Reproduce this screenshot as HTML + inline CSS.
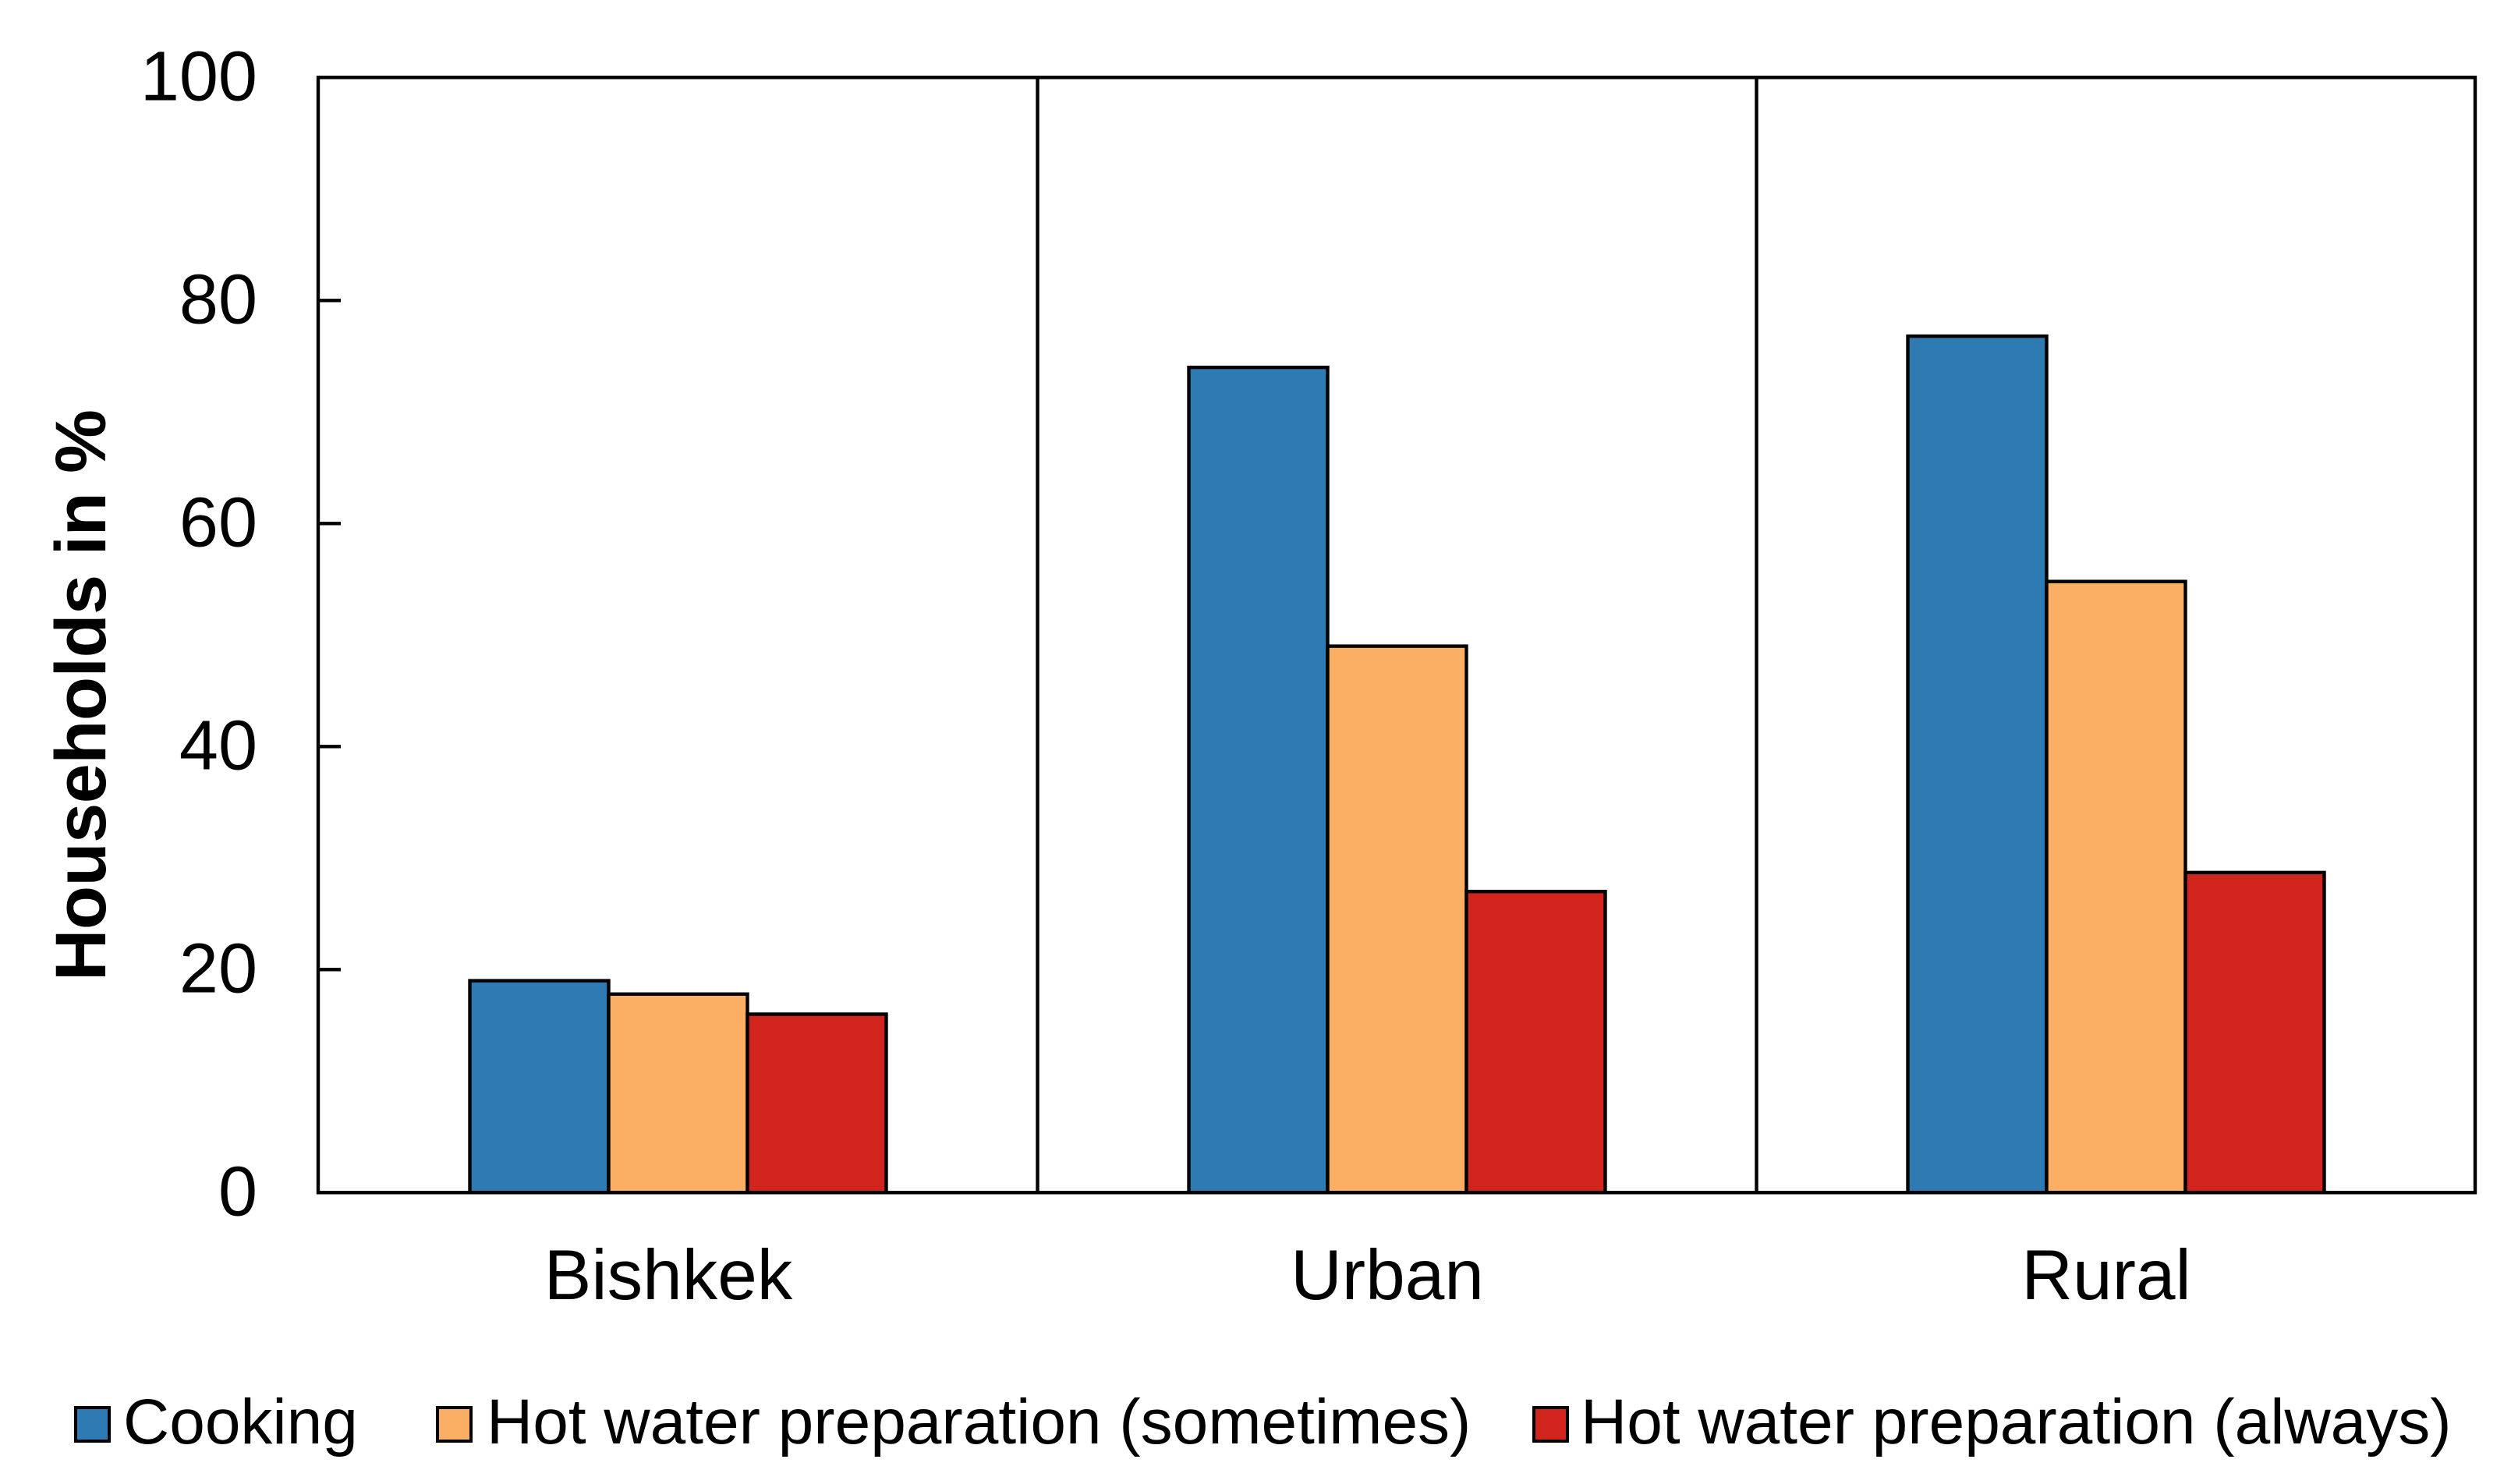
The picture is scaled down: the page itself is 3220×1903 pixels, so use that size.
<!DOCTYPE html>
<html lang="en">
<head>
<meta charset="utf-8">
<title>Households in % by energy use</title>
<style>
html,body{margin:0;padding:0;background:#fff;width:3220px;height:1903px;overflow:hidden}
svg{display:block}
text{font-family:"Liberation Sans",Arial,sans-serif;fill:#000}
</style>
</head>
<body>
<svg id="chart" xmlns="http://www.w3.org/2000/svg" width="3220" height="1903" viewBox="0 0 3220 1903"></svg>
<script>
const categories = ['Bishkek', 'Urban', 'Rural'];
const cooking = [19, 74, 76.8];
const hotWaterSometimes = [17.8, 49, 54.8];
const hotWaterAlways = [16, 27, 28.7];
const yTicks = [0, 20, 40, 60, 80, 100];
const seriesLabels = ['Cooking', 'Hot water preparation (sometimes)', 'Hot water preparation (always)'];

const NS = 'http://www.w3.org/2000/svg';
const svg = document.getElementById('chart');
const plot = {left: 408, right: 3174, top: 99.3, bottom: 1529.3};
const barWidth = 178;
const colors = ['#2e7bb4', '#faaf64', '#d1241c'];
const seriesValues = [cooking, hotWaterSometimes, hotWaterAlways];
const seriesSlugs = ['cooking', 'hot-water-sometimes', 'hot-water-always'];

function yScale(v) { return plot.bottom - (v / 100) * (plot.bottom - plot.top); }
function bandWidth() { return (plot.right - plot.left) / categories.length; }
function xCenter(i) { return plot.left + bandWidth() * (i + 0.5); }

function make(tag, attrs, text) {
  const el = document.createElementNS(NS, tag);
  for (const k in attrs) el.setAttribute(k, attrs[k]);
  if (text !== undefined) el.textContent = text;
  svg.appendChild(el);
  return el;
}

// Plot background
const frameBg = make('rect', {x: plot.left, y: plot.top, width: plot.right - plot.left, height: plot.bottom - plot.top, fill: '#fff'});



// Bars
categories.forEach(function (cat, c) {
  const start = xCenter(c) - barWidth * seriesValues.length / 2;
  seriesValues.forEach(function (vals, s) {
    const y = yScale(vals[c]);
    const bar = make('rect', {x: start + s * barWidth + 0.5, y: y, width: barWidth, height: plot.bottom - y, fill: colors[s], stroke: '#000', 'stroke-width': 4.4});
    
    
  });
});

// Group separators
for (let i = 1; i < categories.length; i++) {
  const sepX = plot.left + bandWidth() * i + 0.5;
  const sep = make('line', {x1: sepX, x2: sepX, y1: plot.top, y2: plot.bottom, stroke: '#000', 'stroke-width': 4.4});
  
  
}

// Frame
const frame = make('rect', {x: plot.left, y: plot.top, width: plot.right - plot.left, height: plot.bottom - plot.top, fill: 'none', stroke: '#000', 'stroke-width': 4.4});



// Y ticks and labels
yTicks.forEach(function (t) {
  const y = yScale(t);
  if (t !== 0 && t !== 100) {
    const tick = make('line', {x1: plot.left, x2: plot.left + 29, y1: y, y2: y, stroke: '#000', 'stroke-width': 4.4});
    
    
  }
  const label = make('text', {x: 330, y: y + 29, 'text-anchor': 'end', 'font-size': 90}, String(t));
  
  
});

// Category labels
categories.forEach(function (cat, c) {
  const label = make('text', {x: xCenter(c) - 12, y: 1666, 'text-anchor': 'middle', 'font-size': 91}, cat);
  
  
});

// Y axis title
const yTitle = make('text', {transform: 'translate(135 1258) rotate(-90)', 'font-size': 92, 'font-weight': 'bold', textLength: 733, lengthAdjust: 'spacing'}, 'Households in %');



// Legend
const swatchX = [97, 561, 1967];
const legendTextX = [158, 624, 2027];
seriesLabels.forEach(function (lab, s) {
  const sw = make('rect', {x: swatchX[s], y: 1805, width: 43, height: 43, fill: colors[s], stroke: '#000', 'stroke-width': 4});
  
  
  const tx = make('text', {x: legendTextX[s], y: 1851, 'font-size': 82}, lab);
  
  
});
</script>
</body>
</html>
